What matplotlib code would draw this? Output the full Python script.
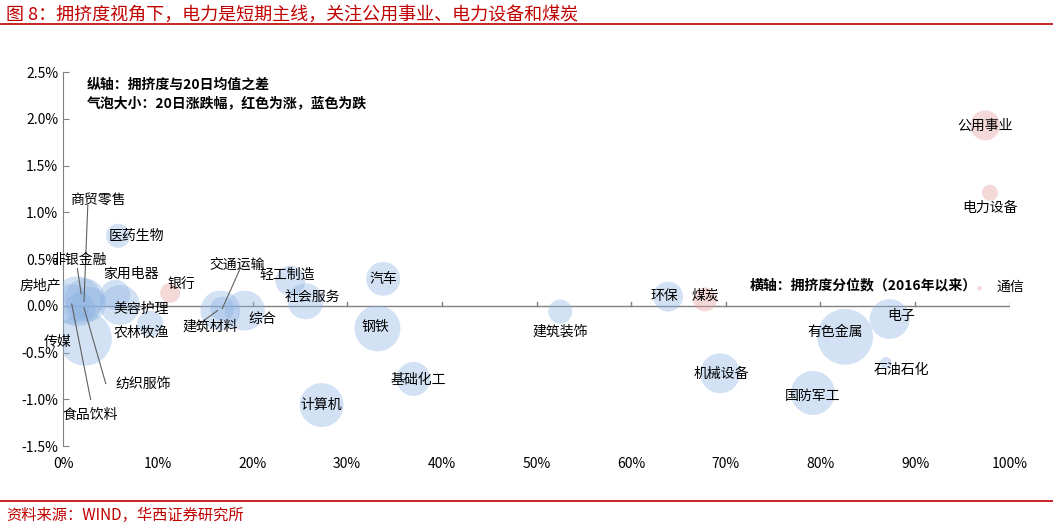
import matplotlib
matplotlib.use("Agg")
import matplotlib.pyplot as plt
from matplotlib.ticker import FuncFormatter

plt.rcParams['font.family'] = ['Noto Sans CJK SC', 'DejaVu Sans']

names = ['公用事业','电力设备','通信','医药生物','银行','房地产','非银金融','商贸零售','家用电器','美容护理',
         '传媒','农林牧渔','食品饮料','纺织服饰','建筑材料','交通运输','综合','轻工制造','社会服务','汽车',
         '钢铁','基础化工','计算机','建筑装饰','环保','煤炭','机械设备','国防军工','有色金属','电子','石油石化']
pct = [97.4,97.9,96.8,5.8,11.3,1.5,2.3,2.7,5.5,6.0,
       2.3,9.2,0.8,1.8,16.6,16.8,19.2,24.0,25.6,33.8,
       33.2,37.0,27.3,52.5,63.9,67.8,69.4,79.2,82.6,87.3,86.9]
diff = [1.93,1.21,0.19,0.75,0.14,0.05,0.08,0.02,0.12,0.01,
        -0.35,-0.19,0.02,-0.02,-0.05,-0.03,-0.05,0.27,0.05,0.29,
        -0.24,-0.78,-1.06,-0.06,0.10,0.07,-0.72,-0.93,-0.33,-0.14,-0.61]
change = [4.5,1.3,0.1,2.9,2.0,12.5,8.0,6.0,4.5,8.0,
          14.6,3.4,8.0,4.5,8.0,2.9,8.0,4.5,6.5,5.8,
          10.6,5.8,9.7,2.9,4.5,2.9,8.0,9.7,15.7,8.0,0.7]
change = [c if n in ('公用事业','电力设备','通信','银行','煤炭') else -abs(c) for n, c in zip(names, change)]

fig = plt.figure(figsize=(10.53, 5.30), dpi=100)
fig.text(0.006, 0.972, '图 8：拥挤度视角下，电力是短期主线，关注公用事业、电力设备和煤炭', color='#c00000',
         fontsize=13, va='center', ha='left')
fig.add_artist(plt.Line2D([0.0, 1.0], [0.955, 0.955], color='#c00000', lw=1.2))
fig.add_artist(plt.Line2D([0.0, 1.0], [0.055, 0.055], color='#c00000', lw=1.2))
fig.text(0.006, 0.028, '资料来源：WIND，华西证券研究所', color='#c00000', fontsize=11, va='center')

ax = fig.add_axes([0.06, 0.158, 0.899, 0.706])
cols = ['#e8a0a0' if c > 0 else '#8fb4e3' for c in change]
ax.scatter(pct, diff, s=[abs(c) * 103 for c in change], c=cols, alpha=0.4, edgecolors='none', zorder=3)
ax.set_xlim(0, 100)
ax.set_ylim(-1.5, 2.5)
ax.set_xticks(range(0, 101, 10))
ax.set_yticks([-1.5, -1.0, -0.5, 0, 0.5, 1.0, 1.5, 2.0, 2.5])
ax.xaxis.set_major_formatter(FuncFormatter(lambda v, p: f'{v:.0f}%'))
ax.yaxis.set_major_formatter(FuncFormatter(lambda v, p: f'{v:.1f}%'))
for s in ['top', 'right', 'bottom']:
    ax.spines[s].set_visible(False)
ax.spines['left'].set_color('#808080')
ax.tick_params(axis='x', length=0, labelsize=10, pad=8)
ax.tick_params(axis='y', direction='in', length=4, color='#808080', labelsize=10)
ax.axhline(0, color='#808080', lw=1, zorder=1)
for v in range(10, 101, 10):
    ax.plot([v, v], [0, 0.04], color='#808080', lw=1, zorder=1)

lab = {'公用事业': (97.4, 1.93, 'center'), '电力设备': (97.9, 1.05, 'center'), '通信': (98.6, 0.21, 'left'),
       '医药生物': (7.7, 0.75, 'center'), '银行': (12.5, 0.24, 'center'), '建筑装饰': (52.5, -0.27, 'center'),
       '环保': (63.5, 0.11, 'center'), '煤炭': (67.8, 0.11, 'center'), '机械设备': (69.5, -0.73, 'center'),
       '国防军工': (79.2, -0.96, 'center'), '有色金属': (81.5, -0.28, 'center'), '电子': (88.5, -0.11, 'center'),
       '石油石化': (88.5, -0.69, 'center'), '钢铁': (33.0, -0.22, 'center'), '基础化工': (37.5, -0.79, 'center'),
       '计算机': (27.3, -1.06, 'center'), '汽车': (33.8, 0.29, 'center'), '社会服务': (26.3, 0.10, 'center'),
       '轻工制造': (23.7, 0.33, 'center'), '综合': (21.0, -0.14, 'center'), '农林牧渔': (8.2, -0.29, 'center'),
       '美容护理': (8.2, -0.03, 'center'), '家用电器': (7.2, 0.34, 'center'), '房地产': (-2.4, 0.22, 'center'),
       '传媒': (-0.6, -0.39, 'center')}
for n, (x, y, ha) in lab.items():
    ax.text(x, y, n, fontsize=10, ha=ha, va='center', zorder=5)

lead = {'商贸零售': ((2.2, 0.05), (2.6, 1.08)), '非银金融': ((1.9, 0.13), (1.5, 0.4)),
        '交通运输': ((16.8, -0.03), (18.7, 0.4)), '建筑材料': ((16.3, -0.05), (14.0, -0.22)),
        '纺织服饰': ((2.2, -0.02), (4.5, -0.83)), '食品饮料': ((0.9, 0.02), (2.9, -1.0))}
txt = {'商贸零售': (3.7, 1.13), '非银金融': (1.7, 0.49), '交通运输': (18.4, 0.44), '建筑材料': (15.5, -0.22),
       '纺织服饰': (8.5, -0.83), '食品饮料': (2.9, -1.16)}
for n, (p0, p1) in lead.items():
    ax.plot([p0[0], p1[0]], [p0[1], p1[1]], color='#606060', lw=0.8, zorder=4)
    ax.text(txt[n][0], txt[n][1], n, fontsize=10, ha='center', va='center', zorder=5)

ax.text(2.5, 2.37, '纵轴：拥挤度与20日均值之差', fontsize=10, fontweight='bold', va='center')
ax.text(2.5, 2.17, '气泡大小：20日涨跌幅，红色为涨，蓝色为跌', fontsize=10, fontweight='bold', va='center')
ax.text(72.5, 0.22, '横轴：拥挤度分位数（2016年以来）', fontsize=10, fontweight='bold', va='center')

fig.savefig('out.png', dpi=100)
